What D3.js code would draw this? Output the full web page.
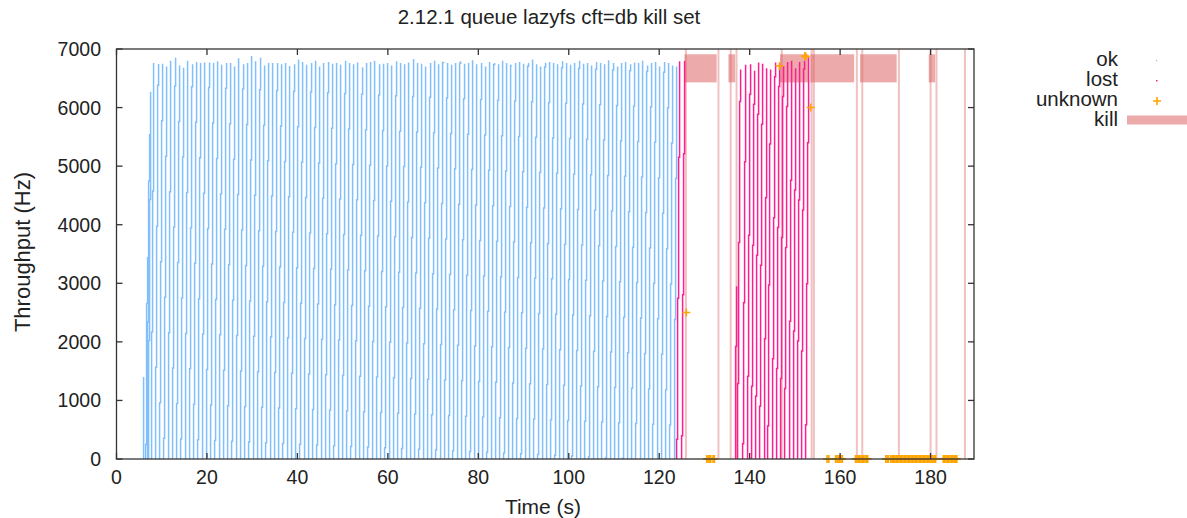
<!DOCTYPE html>
<meta charset="utf-8">
<style>
    body { margin: 0; background: #fff; }
    svg { font-family: "Liberation Sans", Arial, sans-serif; }
    .ok, .lost { fill: none; }
</style>

<body>
    <svg width="1187" height="518"></svg>
    <script src="https://d3js.org/d3.v7.min.js"></script>
    <script>
        // ok bursts: start time (s) and peak throughput (Hz)
        var okTimes = [5.90, 6.50, 6.75, 7.00,
            7.65, 8.59, 9.53, 10.47, 11.41, 12.35, 13.29, 14.23, 15.17, 16.11,
            17.05, 17.99, 18.93, 19.87, 20.81, 21.75, 22.69, 23.63, 24.57, 25.51,
            26.45, 27.39, 28.33, 29.27, 30.21, 31.15, 32.09, 33.03, 33.97, 34.91,
            35.85, 36.79, 37.73, 38.67, 39.61, 40.55, 41.49, 42.43, 43.37, 44.31,
            45.25, 46.19, 47.13, 48.07, 49.01, 49.95, 50.89, 51.83, 52.77, 53.71,
            54.65, 55.59, 56.53, 57.47, 58.41, 59.35, 60.29, 61.23, 62.17, 63.11,
            64.05, 64.99, 65.93, 66.87, 67.81, 68.75, 69.69, 70.63, 71.57, 72.51,
            73.45, 74.39, 75.33, 76.27, 77.21, 78.15, 79.09, 80.03, 80.97, 81.91,
            82.85, 83.79, 84.73, 85.67, 86.61, 87.55, 88.49, 89.43, 90.37, 91.31,
            92.25, 93.19, 94.13, 95.07, 96.01, 96.95, 97.89, 98.83, 99.77, 100.71,
            101.65, 102.59, 103.53, 104.47, 105.41, 106.35, 107.29, 108.23, 109.17, 110.11,
            111.05, 111.99, 112.93, 113.87, 114.81, 115.75, 116.69, 117.63, 118.57, 119.51,
            120.45, 121.39, 122.33, 123.27];
        var okTops = [1400, 3450, 5550, 6270,
            6760, 6745, 6750, 6700, 6800, 6850, 6720, 6680, 6800, 6740,
            6780, 6760, 6770, 6770, 6760, 6790, 6730, 6760, 6760, 6700,
            6840, 6740, 6760, 6880, 6790, 6850, 6720, 6760, 6760, 6760,
            6740, 6760, 6710, 6740, 6820, 6780, 6730, 6760, 6800, 6700,
            6760, 6780, 6750, 6760, 6730, 6800, 6760, 6740, 6770, 6690,
            6760, 6780, 6800, 6740, 6750, 6760, 6720, 6790, 6760, 6740,
            6770, 6830, 6760, 6750, 6700, 6760, 6800, 6740, 6780, 6760,
            6730, 6760, 6790, 6750, 6760, 6810, 6740, 6760, 6700, 6780,
            6760, 6740, 6800, 6760, 6720, 6760, 6780, 6750, 6760, 6820,
            6740, 6700, 6760, 6780, 6760, 6740, 6790, 6760, 6730, 6760,
            6800, 6750, 6760, 6720, 6780, 6760, 6740, 6810, 6760, 6700,
            6760, 6780, 6740, 6770, 6760, 6800, 6720, 6760, 6780, 6700,
            6780, 6760, 6720, 6700];

        var lostTimes = [123.9, 125.0, 136.8, 137.3, 138.5, 139.5, 140.4, 141.3, 142.2, 143.2,
            144.0, 145.0, 145.9, 146.8, 147.7, 148.7, 149.6, 150.5, 151.4, 152.4];
        var lostTops = [6790, 6800, 2950, 6650, 6730, 6740, 6630, 6770, 6750, 6670,
            6650, 6770, 6750, 6710, 6780, 6800, 6670, 6780, 6800, 6860];

        var unknownTimes = [126.0, 146.6, 152.2, 152.4, 153.5,
            130.5, 130.8, 131.1, 131.4, 131.9, 132.2,
            157.1, 157.5, 159.0, 159.3, 159.6, 159.9, 160.2, 160.5,
            163.4, 163.7, 164.0, 164.3, 164.6, 164.9, 165.2, 165.5, 165.8, 166.1,
            170.1, 170.4, 170.7, 171.2, 171.5, 171.8, 172.1, 172.4, 172.7, 173.0,
            173.3, 173.6, 173.9, 174.2, 174.5, 174.8, 175.1, 175.4, 175.7, 176.0,
            176.3, 176.6, 176.9, 177.2, 177.5, 177.8, 178.1, 178.4, 178.7, 179.0,
            179.3, 179.6, 179.9, 180.2, 180.5, 180.8, 181.1,
            182.8, 183.1, 183.4, 183.7, 184.0, 184.3, 184.6, 184.9, 185.2, 185.5, 185.8];
        var unknownValues = [2500, 6710, 6880, 6870, 6000,
            0, 0, 0, 0, 0, 0,
            0, 0, 0, 0, 0, 0, 0, 0,
            0, 0, 0, 0, 0, 0, 0, 0, 0, 0,
            0, 0, 0, 0, 0, 0, 0, 0, 0, 0,
            0, 0, 0, 0, 0, 0, 0, 0, 0, 0,
            0, 0, 0, 0, 0, 0, 0, 0, 0, 0,
            0, 0, 0, 0, 0, 0, 0,
            0, 0, 0, 0, 0, 0, 0, 0, 0, 0, 0];

        var killStarts = [125.6, 135.3, 146.7, 153.4, 164.4, 179.6];
        var killEnds = [132.7, 136.8, 153.0, 163.1, 172.5, 181.0];
        var killLines = [125.9, 133.1, 135.8, 137.1, 147.1, 153.7, 154.2, 163.7, 164.9, 173.0, 180.0, 181.3, 187.6];
        var killBand = [6430, 6910];

        var xTicks = [0, 20, 40, 60, 80, 100, 120, 140, 160, 180];
        var yTicks = [0, 1000, 2000, 3000, 4000, 5000, 6000, 7000];
        var legendNames = ["ok", "lost", "unknown", "kill"];

        var burstDrift = 0.62; // seconds one burst drifts over its full height

        var svg = d3.select("svg");
        var margin = { left: 116.5, right: 974, top: 49, bottom: 459 };
        var x = d3.scaleLinear().domain([0, 189.6]).range([margin.left, margin.right]);
        var y = d3.scaleLinear().domain([0, 7000]).range([margin.bottom, margin.top]);

        var okColor = "#81BFFC", lostColor = "#FF1E90", unknownColor = "#FFA400", killColor = "rgba(220,100,100,0.55)";

        // kill bands and lines
        svg.append("g").selectAll("rect")
            .data(killStarts)
            .enter().append("rect")
            .attr("x", function (d) { return x(d); })
            .attr("width", function (d, i) { return x(killEnds[i]) - x(d); })
            .attr("y", y(killBand[1]))
            .attr("height", y(killBand[0]) - y(killBand[1]))
            .attr("fill", killColor);

        svg.append("g").selectAll("line")
            .data(killLines)
            .enter().append("line")
            .attr("x1", function (d) { return x(d); })
            .attr("x2", function (d) { return x(d); })
            .attr("y1", y(7000))
            .attr("y2", y(0))
            .attr("stroke", "rgba(220,100,100,0.4)")
            .attr("stroke-width", 2);

        // a burst is a near-vertical run of dots; snap it to pixel columns like gnuplot does
        function burstPath(t, top) {
            var x0 = x(t), x1 = x(t + burstDrift * top / 6750);
            var y0 = y(0), y1 = y(top);
            var col = Math.floor(x0);
            var d = "M" + (col + 0.6) + "," + y0;
            for (var k = col + 1; k <= Math.floor(x1); k++) {
                var yk = y0 + (k - x0) / (x1 - x0) * (y1 - y0);
                d += "V" + yk + "H" + (k + 0.6);
            }
            return d + "V" + y1;
        }

        svg.append("g").selectAll("path")
            .data(okTimes)
            .enter().append("path")
            .attr("class", "ok")
            .attr("d", function (d, i) { return burstPath(d, okTops[i]); })
            .attr("stroke", okColor)
            .attr("stroke-width", 1.5);

        svg.append("g").selectAll("path")
            .data(lostTimes)
            .enter().append("path")
            .attr("class", "lost")
            .attr("d", function (d, i) { return burstPath(d, lostTops[i]); })
            .attr("stroke", lostColor)
            .attr("stroke-width", 1.5);

        function plus(g, cx, cy) {
            g.append("path")
                .attr("d", "M" + (cx - 4) + "," + cy + "H" + (cx + 4) + "M" + cx + "," + (cy - 4) + "V" + (cy + 4))
                .attr("stroke", unknownColor)
                .attr("stroke-width", 1.6)
                .attr("fill", "none");
        }
        var unk = svg.append("g");
        unknownTimes.forEach(function (t, i) { plus(unk, x(t), y(unknownValues[i])); });

        // frame and ticks (gnuplot style, mirrored, inward)
        var frame = svg.append("g").attr("stroke", "#333").attr("stroke-width", 1.3);
        frame.append("rect")
            .attr("x", margin.left).attr("y", margin.top)
            .attr("width", margin.right - margin.left).attr("height", margin.bottom - margin.top)
            .attr("fill", "none");
        xTicks.forEach(function (t) {
            frame.append("line").attr("x1", x(t)).attr("x2", x(t)).attr("y1", margin.bottom).attr("y2", margin.bottom - 6);
            frame.append("line").attr("x1", x(t)).attr("x2", x(t)).attr("y1", margin.top).attr("y2", margin.top + 6);
        });
        yTicks.forEach(function (v) {
            frame.append("line").attr("x1", margin.left).attr("x2", margin.left + 6).attr("y1", y(v)).attr("y2", y(v));
            frame.append("line").attr("x1", margin.right).attr("x2", margin.right - 6).attr("y1", y(v)).attr("y2", y(v));
        });

        var fs = 19.5, lfs = 20.5;
        svg.append("g").selectAll("text")
            .data(xTicks).enter().append("text")
            .attr("x", function (d) { return x(d); })
            .attr("y", 484)
            .attr("text-anchor", "middle")
            .attr("font-size", fs)
            .attr("fill", "#222")
            .text(function (d) { return d; });

        svg.append("g").selectAll("text")
            .data(yTicks).enter().append("text")
            .attr("x", 101)
            .attr("y", function (d) { return y(d) + 7; })
            .attr("text-anchor", "end")
            .attr("font-size", fs)
            .attr("fill", "#222")
            .text(function (d) { return d; });

        svg.append("text")
            .attr("x", 549).attr("y", 24)
            .attr("text-anchor", "middle")
            .attr("font-size", 20.5)
            .attr("fill", "#222")
            .text("2.12.1 queue lazyfs cft=db kill set");

        svg.append("text")
            .attr("x", 543).attr("y", 514)
            .attr("text-anchor", "middle")
            .attr("font-size", 21)
            .attr("fill", "#222")
            .text("Time (s)");

        svg.append("text")
            .attr("transform", "translate(30,252) rotate(-90)")
            .attr("text-anchor", "middle")
            .attr("font-size", 22)
            .attr("fill", "#222")
            .text("Throughput (Hz)");

        // legend
        var leg = svg.append("g");
        legendNames.forEach(function (name, i) {
            leg.append("text")
                .attr("x", 1118).attr("y", 66 + i * 20)
                .attr("text-anchor", "end")
                .attr("font-size", lfs)
                .attr("fill", "#222")
                .text(name);
        });
        leg.append("rect").attr("x", 1156).attr("y", 60).attr("width", 1.2).attr("height", 1.2).attr("fill", okColor);
        leg.append("rect").attr("x", 1156).attr("y", 80).attr("width", 1.5).attr("height", 1.5).attr("fill", lostColor);
        plus(leg, 1157, 101);
        leg.append("line")
            .attr("x1", 1127).attr("x2", 1187).attr("y1", 120).attr("y2", 120)
            .attr("stroke", killColor).attr("stroke-width", 9);
    </script>
</body>
